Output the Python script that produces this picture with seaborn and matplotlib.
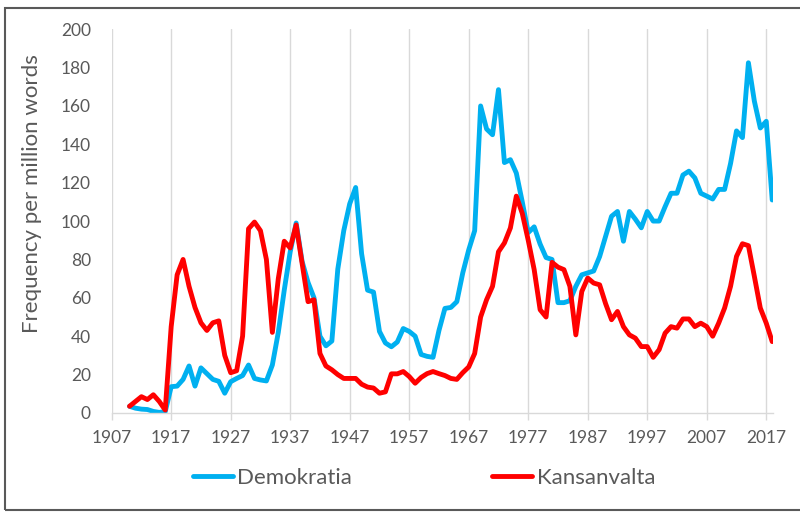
import pandas as pd
import numpy as np
import matplotlib.pyplot as plt
import seaborn as sns
from matplotlib.patches import Rectangle

# yearly frequency per million words
years = list(range(1910, 2019))

demokratia = [
    3.5, 2.5, 2.0, 1.8, 0.8, 0.3, 0.7, 13.7, 14.0, 17.5,          # 1910-1919
    24.5, 14.0, 23.5, 20.5, 17.5, 16.5, 10.3, 16.3, 18.0, 19.5,   # 1920-1929
    25.0, 18.0, 17.2, 16.7, 25.0, 42.0, 64.0, 84.0, 99.0, 79.0,   # 1930-1939
    68.0, 60.0, 40.0, 35.0, 37.5, 75.0, 95.0, 109.0, 117.5, 83.0, # 1940-1949
    64.0, 63.0, 42.5, 36.5, 34.5, 37.0, 44.0, 42.5, 40.0, 30.5,   # 1950-1959
    29.5, 29.0, 43.0, 54.5, 55.0, 58.0, 73.0, 85.0, 95.0, 160.0,  # 1960-1969
    148.0, 145.0, 168.5, 130.5, 132.0, 125.0, 110.0, 94.0, 97.0, 88.0,   # 1970-1979
    81.0, 80.0, 57.5, 57.5, 58.5, 66.0, 72.0, 73.0, 74.0, 81.5,          # 1980-1989
    92.0, 102.5, 105.0, 89.5, 105.0, 101.0, 96.5, 105.0, 100.0, 100.0,   # 1990-1999
    107.5, 114.5, 114.5, 124.0, 126.0, 122.5, 114.5, 113.0, 111.5, 116.5,  # 2000-2009
    116.5, 130.0, 147.0, 143.5, 182.5, 162.5, 148.5, 152.0, 111.0,         # 2010-2018
]

kansanvalta = [
    3.5, 6.0, 8.5, 7.0, 9.5, 6.0, 1.5, 45.0, 72.0, 80.0,          # 1910-1919
    66.0, 55.0, 47.0, 43.0, 47.0, 48.0, 30.0, 21.0, 22.0, 40.0,   # 1920-1929
    96.0, 99.5, 95.0, 80.0, 42.0, 70.0, 89.5, 86.0, 98.0, 78.0,   # 1930-1939
    58.0, 59.0, 31.0, 24.5, 22.5, 20.0, 18.0, 18.0, 18.0, 15.0,   # 1940-1949
    13.5, 13.0, 10.3, 11.0, 20.4, 20.4, 21.6, 19.0, 15.5, 18.5,   # 1950-1959
    20.5, 21.6, 20.5, 19.5, 18.0, 17.5, 21.0, 24.0, 31.0, 50.0,   # 1960-1969
    59.0, 66.0, 84.0, 88.6, 96.4, 113.0, 104.0, 90.0, 74.7, 53.8, # 1970-1979
    50.0, 78.5, 76.0, 74.7, 66.0, 40.7, 63.3, 70.3, 67.7, 66.8,   # 1980-1989
    57.0, 48.6, 52.9, 45.0, 40.7, 39.0, 34.6, 34.6, 29.0, 33.0,   # 1990-1999
    41.6, 45.0, 44.2, 49.0, 49.0, 45.0, 46.8, 45.0, 40.0, 46.8,   # 2000-2009
    54.7, 66.0, 81.6, 88.2, 87.2, 71.2, 54.7, 46.8, 37.2,         # 2010-2018
]

x_ticks = list(range(1907, 2018, 10))
y_ticks = list(range(0, 201, 20))

df = pd.DataFrame({
    "year": years * 2,
    "value": demokratia + kansanvalta,
    "series": ["Demokratia"] * len(years) + ["Kansanvalta"] * len(years),
})

sns.set_theme(style="white")
plt.rcParams['font.family'] = ['Lato', 'DejaVu Sans']

fig = plt.figure(figsize=(8, 5.12), dpi=100)
ax = fig.add_axes([0.1396, 0.1934, 0.8264, 0.7496])

sns.lineplot(data=df, x="year", y="value", hue="series",
             palette={"Demokratia": "#00B0F0", "Kansanvalta": "#FF0000"},
             linewidth=3.5, ax=ax, legend=False)

ax.set_xlim(1907, 2018.1)
ax.set_ylim(0, 200)
ax.set_xticks(x_ticks)
ax.set_yticks(y_ticks)
ax.set_xlabel("")
ax.set_ylabel("")

ax.grid(axis="x", color="#d9d9d9", linewidth=1)
ax.grid(axis="y", visible=False)
for side in ["left", "right", "top"]:
    ax.spines[side].set_visible(False)
ax.spines["bottom"].set_color("#d9d9d9")
ax.spines["bottom"].set_linewidth(1)

ax.tick_params(axis="x", direction="out", length=5, width=1, color="#d9d9d9",
               labelsize=12.5, labelcolor="#595959", pad=7, bottom=True)
ax.tick_params(axis="y", length=0, labelsize=12.5, labelcolor="#595959", pad=15)

fig.text(0.04, 0.621, "Frequency per million words", rotation=90,
         ha="center", va="center", fontsize=16, color="#595959")

# legend below the plot
handles = [plt.Line2D([], [], color="#00B0F0", linewidth=3.5),
           plt.Line2D([], [], color="#FF0000", linewidth=3.5)]
fig.legend(handles, ["Demokratia", "Kansanvalta"], loc="center",
           bbox_to_anchor=(0.53, 0.066), ncol=2, frameon=False,
           fontsize=16, handlelength=1.8, handletextpad=0.2,
           columnspacing=6.3, labelcolor="#595959")

# outer chart border
fig.patches.append(Rectangle((0.006, 0.004), 1.1, 0.98, transform=fig.transFigure,
                             fill=False, edgecolor="#595959", linewidth=1.5))

fig.savefig("out.png", dpi=100)
